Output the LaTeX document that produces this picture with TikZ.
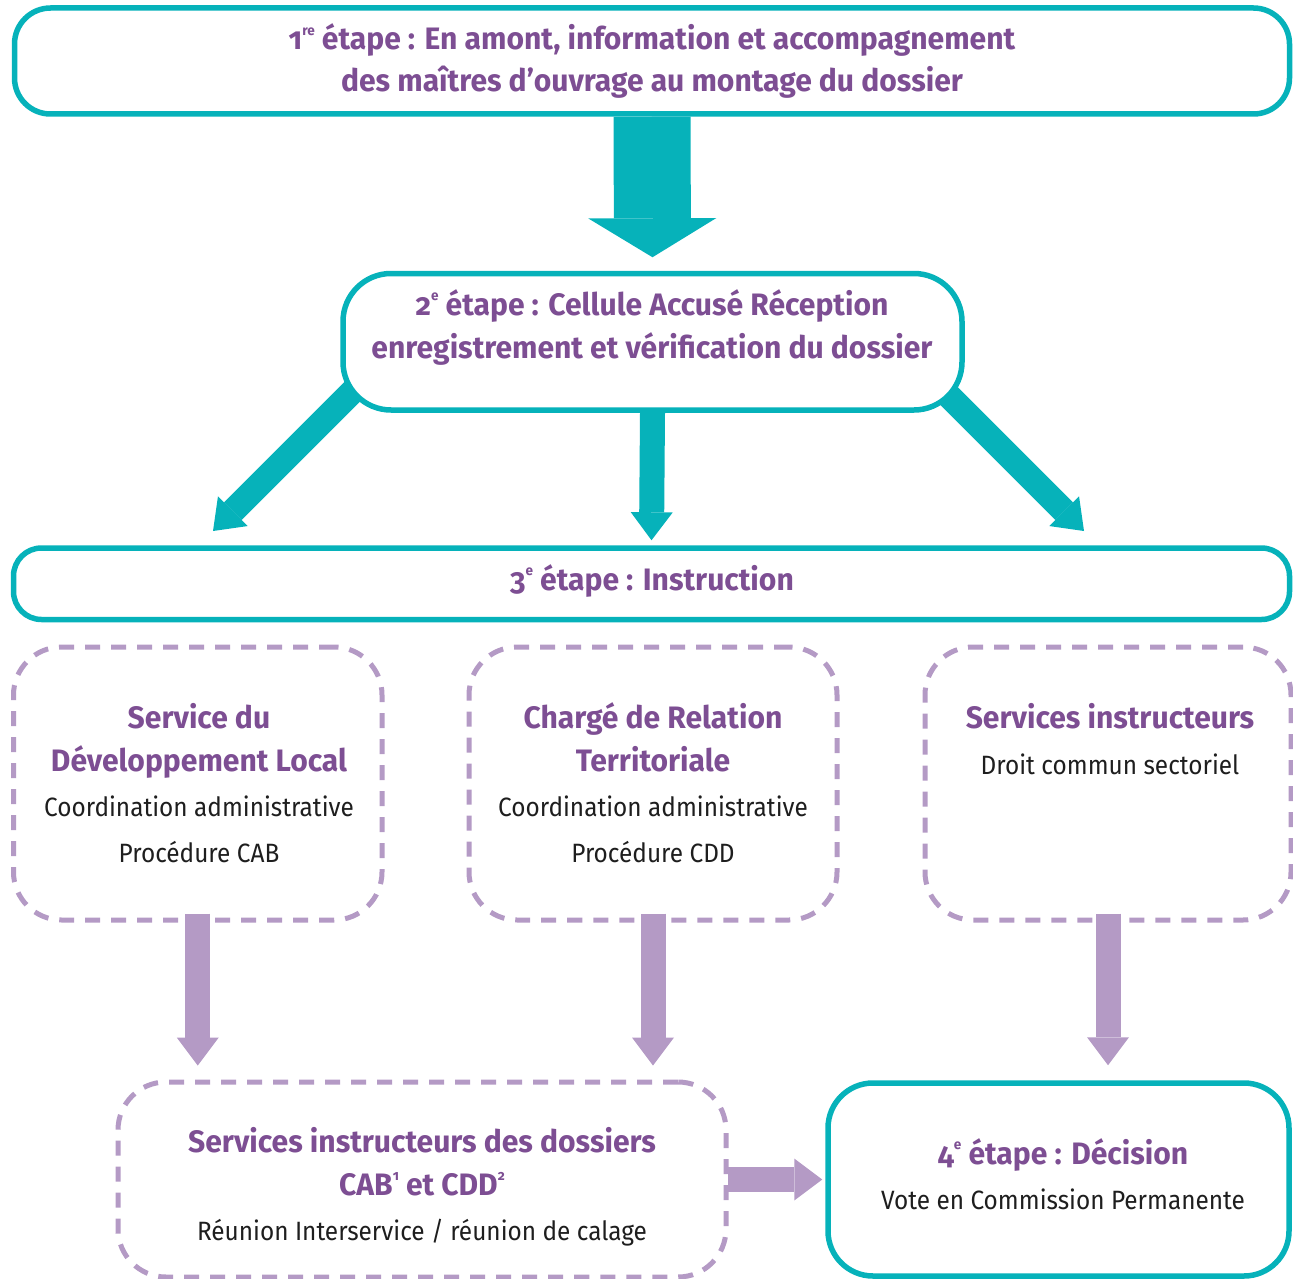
\documentclass[tikz,border=0pt]{standalone}
\usepackage{fontspec}
\newfontfamily\headfont{Fira Sans}[FakeStretch=0.97, Numbers=OldStyle]
\newfontfamily\bodyfont{Fira Sans}[FakeStretch=0.92]
\usetikzlibrary{arrows.meta}
\definecolor{tealc}{RGB}{6,178,186}
\definecolor{purp}{RGB}{125,78,147}
\definecolor{lilac}{RGB}{180,154,197}
\definecolor{ink}{RGB}{30,30,30}
\newcommand\supx[1]{\raisebox{0.48em}{\fontsize{14}{14}\selectfont #1}}
\pgfdeclarelayer{bg}
\pgfsetlayers{bg,main}
\begin{document}
\begin{tikzpicture}[x=1pt,y=-1pt,
  tealbox/.style={draw=tealc, line width=5.5pt, fill=white, rounded corners=#1, inner sep=0pt},
  dashbox/.style={draw=lilac, line width=5pt, dash pattern=on 15pt off 11pt, rounded corners=48pt, fill=white, inner sep=0pt},
  head/.style={font={\headfont\bfseries\fontsize{31}{36}\selectfont}, text=purp, anchor=base, inner sep=0pt},
  body/.style={font={\bodyfont\fontsize{26.5}{30}\selectfont}, text=ink, anchor=base, inner sep=0pt},
  tealbig/.style={draw=tealc, line width=77pt, -{Triangle[width=128pt,length=39pt,line width=0pt]}},
  tealthin/.style={draw=tealc, line width=25pt, -{Triangle[width=42pt,length=28pt,line width=0pt]}},
  lilacarrow/.style={draw=lilac, line width=25pt, -{Triangle[width=42pt,length=28pt,line width=0pt]}}
]
\useasboundingbox (0,0) rectangle (1293,1279);
% boxes
\node[tealbox=36pt, minimum width=1275pt, minimum height=106pt] (b1) at (652,61) {};
\node[tealbox=48pt, minimum width=619pt, minimum height=136.5pt] (b2) at (652.5,341.75) {};
\node[tealbox=28pt, minimum width=1276pt, minimum height=71.5pt] (b3) at (651.5,583.75) {};
\node[dashbox, minimum width=368.5pt, minimum height=273pt] (bA) at (197.75,783.5) {};
\node[dashbox, minimum width=368pt, minimum height=273pt] (bB) at (653,783.5) {};
\node[dashbox, minimum width=366pt, minimum height=273pt] (bC) at (1108,783.5) {};
\node[dashbox, minimum width=608pt, minimum height=195pt] (bD) at (422,1179.5) {};
\node[tealbox=45pt, minimum width=461pt, minimum height=193pt] (bE) at (1058.5,1179.5) {};
\coordinate (tipL) at (213,531);
\coordinate (tipR) at (1084,531);
% teal arrows under the boxes
\begin{pgfonlayer}{bg}
\draw[tealbig] (b1.south) -- ([shift={(0,-13.5)}]b2.north);
\draw[tealthin] (b2.south) -- ([shift={(0,-5)}]b3.north);
\draw[tealthin] ([shift={(30,-39)}]b2.south west) -- (tipL);
\draw[tealthin] ([shift={(-38,-39)}]b2.south east) -- (tipR);
\end{pgfonlayer}
% lilac arrows
\draw[lilacarrow, shorten >=14pt] ([yshift=9pt]bA.south) -- (bA.south |- bD.north);
\draw[lilacarrow, shorten >=14pt] ([yshift=9pt]bB.south) -- (bB.south |- bD.north);
\draw[lilacarrow, shorten >=15pt] ([yshift=9pt]bC.south) -- (bC.south |- bE.north);
\draw[lilacarrow, shorten >=3pt] ([xshift=-1pt]bD.east) -- (bE.west);
% texts
\node[head] (t1a) at (652,50) {1\supx{re} étape : En amont, information et accompagnement};
\node[head] (t1b) at (652,92) {des maîtres d’ouvrage au montage du dossier};
\node[head] (t2a) at (652,315) {2\supx{e} étape : Cellule Accusé Réception};
\node[head] (t2b) at (652,358) {enregistrement et vérification du dossier};
\node[head] (t3) at (652,590) {3\supx{e} étape : Instruction};
\node[head] (tA1) at (199,728) {Service du};
\node[head] (tA2) at (199,771) {Développement Local};
\node[body] (tA3) at (199,816) {Coordination administrative};
\node[body] (tA4) at (199,862) {Procédure CAB};
\node[head] (tB1) at (653,728) {Chargé de Relation};
\node[head] (tB2) at (653,771) {Territoriale};
\node[body] (tB3) at (653,816) {Coordination administrative};
\node[body] (tB4) at (653,862) {Procédure CDD};
\node[head] (tC1) at (1110,728) {Services instructeurs};
\node[body] (tC2) at (1110,774) {Droit commun sectoriel};
\node[head] (tD1) at (422,1152) {Services instructeurs des dossiers};
\node[head] (tD2) at (422,1195) {CAB\supx{1} et CDD\supx{2}};
\node[body] (tD3) at (422,1240) {Réunion Interservice / réunion de calage};
\node[head] (tE1) at (1063,1164) {4\supx{e} étape : Décision};
\node[body] (tE2) at (1063,1209) {Vote en Commission Permanente};
\end{tikzpicture}
\end{document}
